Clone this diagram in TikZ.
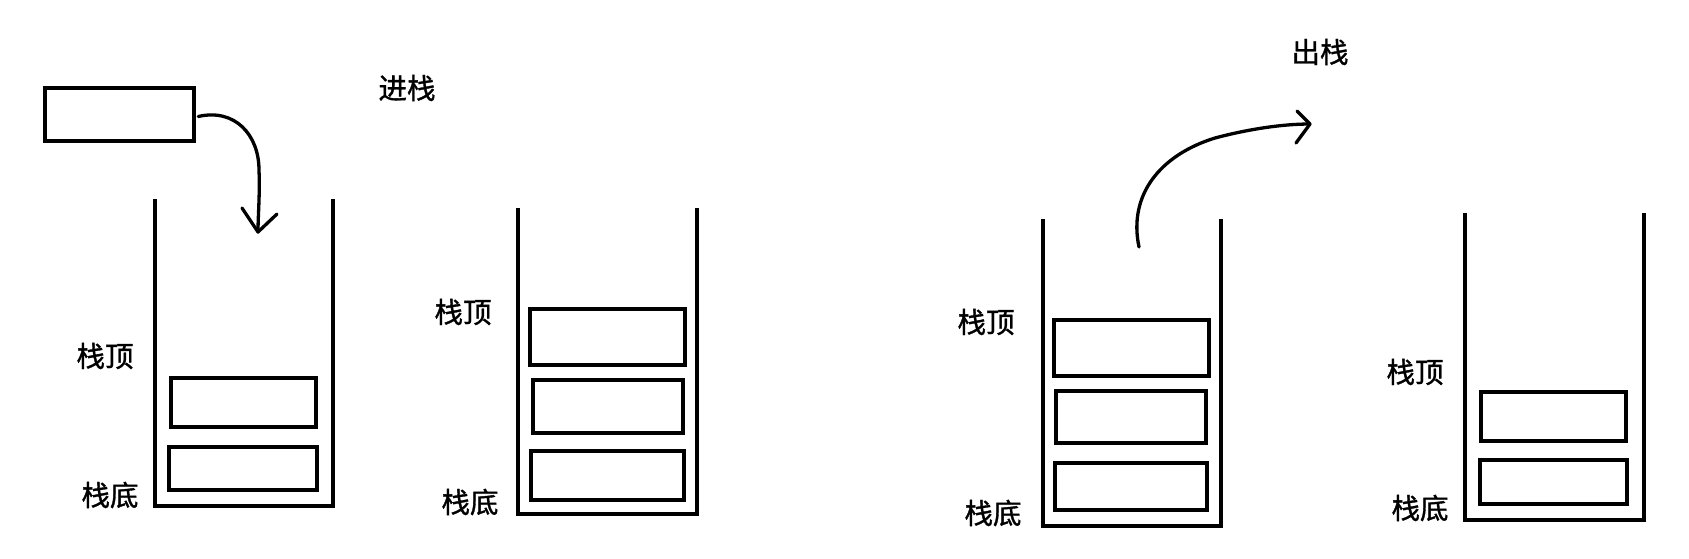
\documentclass[tikz,border=0pt]{standalone}
\usepackage{fontspec}
\setmainfont{Noto Sans CJK SC}
\newfontfamily\lblfont{Noto Sans CJK SC}[FakeBold=1.2]
\begin{document}
\begin{tikzpicture}[x=1pt,y=-1pt,
  cell/.style={draw=black,line width=4.5pt,inner sep=0pt,fill=white},
  wall/.style={draw=black,line width=4.5pt},
  curve/.style={draw=black,line width=3.3pt,line cap=round,line join=round},
  lbl/.style={inner sep=0pt,font=\lblfont\fontsize{28.5pt}{32pt}\selectfont}]
\useasboundingbox[fill=white] (0,0) rectangle (1689,558);

% ---------- stack 1 ----------
\draw[wall] (155,199) -- (155,506) -- (333,506) -- (333,199);
\node[cell,minimum width=145pt,minimum height=49pt] (s1a) at (243.5,402.5) {};
\node[cell,minimum width=148pt,minimum height=43pt] (s1b) at (243,468.5) {};
\node[lbl] (s1top) at (105,356) {栈顶};
\node[lbl] (s1bot) at (110,495) {栈底};

% loose element and push arrow
\node[cell,minimum width=149pt,minimum height=53pt] (elem) at (119.5,114.5) {};
\coordinate (pushtip) at (258,232);
\draw[curve] (elem.east) ++(2,2) .. controls (235,108) and (259,135) .. (259,170)
  .. controls (260,195) and (258,215) .. (pushtip);
\draw[curve] (pushtip) ++(-16,-24) -- (pushtip) -- ++(19,-18);
\node[lbl] (push) at (407,88) {进栈};

% ---------- stack 2 ----------
\draw[wall] (518,208) -- (518,514) -- (697,514) -- (697,208);
\node[cell,minimum width=155pt,minimum height=56pt] (s2a) at (607.5,337) {};
\node[cell,minimum width=150pt,minimum height=53pt] (s2b) at (608,406.5) {};
\node[cell,minimum width=153pt,minimum height=49pt] (s2c) at (607.5,475.5) {};
\node[lbl] (s2top) at (463,312) {栈顶};
\node[lbl] (s2bot) at (470,502) {栈底};

% ---------- stack 3 ----------
\draw[wall] (1043,219) -- (1043,526) -- (1221,526) -- (1221,219);
\node[cell,minimum width=155pt,minimum height=56pt] (s3a) at (1131.5,348) {};
\node[cell,minimum width=150pt,minimum height=52pt] (s3b) at (1131,417) {};
\node[cell,minimum width=152pt,minimum height=47pt] (s3c) at (1131,486.5) {};
\node[lbl] (s3top) at (986,322) {栈顶};
\node[lbl] (s3bot) at (993,513) {栈底};

% pop arrow
\coordinate (popstart) at (1139,247);
\coordinate (poptip) at (1310,124);
\draw[curve] (popstart) .. controls (1128,195) and (1160,155) .. (1215,138)
  .. controls (1245,130) and (1280,124) .. (poptip);
\draw[curve] (poptip) ++(-13,-13) -- (poptip) -- ++(-14,19);
\node[lbl] (pop) at (1320,52) {出栈};

% ---------- stack 4 ----------
\draw[wall] (1465,213) -- (1465,520) -- (1644,520) -- (1644,213);
\node[cell,minimum width=145pt,minimum height=49pt] (s4a) at (1553.5,416.5) {};
\node[cell,minimum width=147pt,minimum height=44pt] (s4b) at (1553.5,482) {};
\node[lbl] (s4top) at (1415,372) {栈顶};
\node[lbl] (s4bot) at (1420,508) {栈底};
\end{tikzpicture}
\end{document}
